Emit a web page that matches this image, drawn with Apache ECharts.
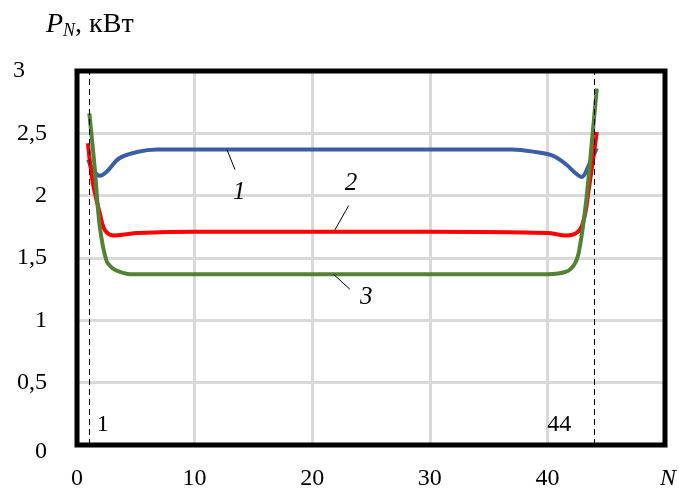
<!DOCTYPE html>
<html>
<head>
<meta charset="utf-8">
<script src="https://cdn.jsdelivr.net/npm/echarts@6/dist/echarts.min.js"></script>
<style>
  html, body { margin: 0; padding: 0; background: #fff; }
  #chart { width: 679px; height: 492px; }
</style>
</head>
<body>
<div id="chart"></div>
<script>
// данные кривых (N, P_N)
var n1 = [0.95, 1.4, 1.95, 2.5, 3.6, 5.1, 6.8, 10, 20, 30, 37, 39, 40.5, 41.6, 42.4, 42.9, 43.6, 44.2];
var p1 = [2.29, 2.2, 2.16, 2.19, 2.30, 2.35, 2.37, 2.37, 2.37, 2.37, 2.37, 2.35, 2.32, 2.25, 2.18, 2.15, 2.26, 2.38];

var n2 = [0.93, 1.35, 1.94, 2.4, 3.2, 4.2, 5.1, 10, 20, 30, 40, 41.6, 42.7, 43.2, 43.5, 43.9, 44.2];
var p2 = [2.42, 2.10, 1.86, 1.72, 1.68, 1.69, 1.70, 1.71, 1.71, 1.71, 1.70, 1.68, 1.72, 1.85, 2.04, 2.30, 2.51];

var n3 = [1.05, 1.5, 1.94, 2.5, 3.0, 3.6, 4.5, 10, 20, 30, 40, 41.6, 42.3, 42.7, 43.3, 43.8, 44.2];
var p3 = [2.66, 2.23, 1.75, 1.48, 1.42, 1.39, 1.37, 1.37, 1.37, 1.37, 1.37, 1.39, 1.45, 1.56, 1.96, 2.45, 2.86];

var bounds = [1, 44];

// подписи кривых и выноски
var curveNames = ['1', '2', '3'];
var curveLabelPos = [[13.8, 2.03], [23.3, 2.10], [24.6, 1.18]];
var leaders = [
  [[12.75, 2.37], [13.43, 2.21]],
  [[23.1, 1.92], [21.9, 1.72]],
  [[21.8, 1.37], [23.2, 1.25]]
];

function pairs(xs, ys) {
  return xs.map(function (x, i) { return [x, ys[i]]; });
}

var font = '"Liberation Serif", "Times New Roman", serif';
var myChart = echarts.init(document.getElementById('chart'));

var option = {
  animation: false,
  grid: { left: 77, right: 10, top: 71, bottom: 47 },
  xAxis: {
    type: 'value', min: 0, max: 50, interval: 10,
    axisLine: { show: false },
    axisTick: { show: false },
    splitLine: { lineStyle: { color: '#d9d9d9', width: 3 } },
    axisLabel: {
      margin: 22, fontFamily: font, fontSize: 24, color: '#000',
      showMaxLabel: true,
      formatter: function (v) {
        return v === 50 ? '{n|N}' : String(v);
      },
      rich: { n: { fontFamily: font, fontSize: 24, fontStyle: 'italic', color: '#000', padding: [0, 0, 0, 6] } }
    }
  },
  yAxis: {
    type: 'value', min: 0, max: 3, interval: 0.5,
    axisLine: { show: false },
    axisTick: { show: false },
    splitLine: { lineStyle: { color: '#d9d9d9', width: 3 } },
    axisLabel: {
      margin: 30, fontFamily: font, fontSize: 24, color: '#000',
      formatter: function (v) {
        var s = String(v).replace('.', ',');
        if (v === 3) return '{t|' + s + '}';
        if (v === 0) return '{z|' + s + '}';
        return s;
      },
      rich: {
        t: { fontFamily: font, fontSize: 24, color: '#000', padding: [0, 22, 0, 0] },
        z: { fontFamily: font, fontSize: 24, color: '#000', padding: [14, 0, 0, 0] }
      }
    }
  },
  series: [
    {
      name: '1', type: 'line', data: pairs(n1, p1),
      smooth: 0.35, showSymbol: false,
      lineStyle: { color: '#3a5da4', width: 4 }
    },
    {
      name: '2', type: 'line', data: pairs(n2, p2),
      smooth: 0.35, showSymbol: false,
      lineStyle: { color: '#ff0000', width: 4 }
    },
    {
      name: '3', type: 'line', data: pairs(n3, p3),
      smooth: 0.35, showSymbol: false,
      lineStyle: { color: '#548235', width: 4 }
    },
    {
      // границы N = 1 и N = 44, выноски
      type: 'line', data: [], silent: true,
      markLine: {
        symbol: 'none', silent: true, label: { show: false },
        data: bounds.map(function (b) {
          return [{ coord: [b, 0], lineStyle: { type: [6, 4] } }, { coord: [b, 3] }];
        }).concat(leaders.map(function (l) {
          return [{ coord: l[0], lineStyle: { type: 'solid' } }, { coord: l[1] }];
        })),
        lineStyle: { color: '#000', width: 1 }
      }
    }
  ]
};

myChart.setOption(option);

// рамка области построения
var tl = myChart.convertToPixel({ gridIndex: 0 }, [0, 3]);
var br = myChart.convertToPixel({ gridIndex: 0 }, [50, 0]);
var items = [{
  type: 'rect', z: 100,
  shape: { x: tl[0], y: tl[1], width: br[0] - tl[0], height: br[1] - tl[1] },
  style: { fill: 'none', stroke: '#000', lineWidth: 5 }
}];

// подписи на графике
curveNames.forEach(function (name, i) {
  var p = myChart.convertToPixel({ gridIndex: 0 }, curveLabelPos[i]);
  items.push({
    type: 'text', x: p[0], y: p[1],
    style: { text: name, font: 'italic 25px ' + font, fill: '#000', align: 'center', verticalAlign: 'middle' }
  });
});
var b1 = myChart.convertToPixel({ gridIndex: 0 }, [2.2, 0.16]);
var b2 = myChart.convertToPixel({ gridIndex: 0 }, [41.0, 0.16]);
items.push({ type: 'text', x: b1[0], y: b1[1], style: { text: '1', font: '24px ' + font, fill: '#000', align: 'center', verticalAlign: 'middle' } });
items.push({ type: 'text', x: b2[0], y: b2[1], style: { text: '44', font: '24px ' + font, fill: '#000', align: 'center', verticalAlign: 'middle' } });
// подпись оси Y
items.push({
  type: 'text', left: 46, top: 11,
  style: {
    text: '{p|P}{s|N}{r|, кВт}',
    rich: {
      p: { font: 'italic 28px ' + font, fill: '#000' },
      s: { font: 'italic 18px ' + font, fill: '#000', padding: [12, 0, 0, 0] },
      r: { font: '28px ' + font, fill: '#000' }
    }
  }
});

myChart.setOption({ graphic: items });
</script>
</body>
</html>
